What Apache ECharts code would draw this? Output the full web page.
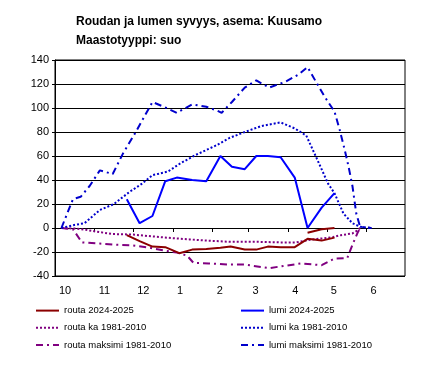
<!DOCTYPE html>
<html>
<head>
<meta charset="utf-8">
<script src="https://cdn.jsdelivr.net/npm/echarts@6/dist/echarts.min.js"></script>
<style>
html,body{margin:0;padding:0;background:#fff;}
#chart{width:430px;height:376px;}
</style>
</head>
<body>
<div id="chart"></div>
<script>
// x values are days counted from 1 October 2024 (season day)
var monthStartDays = [0, 31, 61, 92, 123, 151, 182, 212, 243];
var monthLabels = ['10', '11', '12', '1', '2', '3', '4', '5', '6'];
var seasonLength = 273;

var routaDays   = [56, 66, 76, 86, 97, 107, 118, 129, 137, 148, 157, 166, 176, 187, 197, 208, 218];
var routaValues = [-6, -11, -15.5, -16, -21, -18, -17.5, -16.5, -15.5, -18, -18, -15.5, -16, -16, -9, -10.5, -8];
var routaTopDays   = [197, 208, 218];
var routaTopValues = [-4, -1, 0];

var lumiDays   = [56, 66, 76, 86, 95, 107, 118, 129, 138, 148, 157, 166, 176, 187, 197, 208, 218];
var lumiValues = [24, 4, 10, 39, 42, 40, 39, 60, 51, 49, 60, 60, 59, 42, 0, 17, 29];

var routaKaDays   = [5, 16, 24, 32, 45, 61, 76, 92, 105, 118, 128, 136, 158, 176, 188, 193, 201, 210, 217, 223, 232, 236, 238];
var routaKaValues = [0, -0.5, -1.5, -3, -5, -5.5, -7, -8.5, -9.5, -10.5, -11, -11.5, -11.5, -12, -12, -11, -9.5, -8.5, -7.5, -6, -4.5, -2, 0];

var lumiKaDays   = [5, 15, 23, 35, 46, 58, 68, 76, 88, 98, 110, 126, 136, 148, 161, 176, 187, 196, 205, 213, 218, 225, 232, 238, 247];
var lumiKaValues = [0, 2.5, 4, 15, 20, 30, 37, 44, 47, 54, 61, 69, 75, 80, 85, 88, 83, 77, 56, 37, 29, 12, 4, 1, 0];

var routaMaxDays   = [5, 14, 21, 35, 48, 61, 74, 84, 95, 103, 108, 120, 136, 148, 167, 176, 192, 208, 218, 228, 232, 236, 238];
var routaMaxValues = [0, -1, -12, -13, -14, -14.5, -16.5, -18.5, -20.5, -23, -29, -29.5, -30.5, -30.5, -33.5, -32, -29.5, -31, -25.5, -25, -14, -4, 0];

var lumiMaxDays   = [5, 14, 20, 27, 35, 45, 53, 63, 76, 87, 95, 107, 118, 126, 130, 138, 148, 157, 167, 180, 190, 197, 204, 210, 218, 222, 226, 229, 232, 235, 238, 247];
var lumiMaxValues = [0, 24, 26, 35, 48, 45, 62, 80, 105, 100, 96, 103, 101, 98, 96, 105, 117, 123, 117, 122, 128, 134, 121, 110, 97, 82, 65, 51, 35, 12, 1, 0];

var yTicks = { min: -40, max: 140, interval: 20 };

function zip(a, b) { return a.map(function (d, i) { return [d, b[i]]; }); }

var chart = echarts.init(document.getElementById('chart'), null, { renderer: 'canvas' });

var FONT = '"Liberation Sans", Arial, sans-serif';
var RED = '#8b0000', PURPLE = '#800080', BLUE = '#0000ff', DBLUE = '#0000cc';
var DOT = [2, 2], DASHDOT = [7, 4, 2, 4];

function line(name, data, color, type, width) {
  return {
    name: name, type: 'line', data: data, xAxisIndex: 0, yAxisIndex: 0,
    showSymbol: false, symbol: 'none', animation: false,
    lineStyle: { color: color, width: width || 2, type: type },
    itemStyle: { color: color }
  };
}

function legendBlock(left, names) {
  return {
    orient: 'vertical', left: left, top: 305, padding: 0, itemGap: 6,
    itemWidth: 23, itemHeight: 14,
    itemStyle: { opacity: 0, borderWidth: 0 },
    data: names,
    textStyle: { fontFamily: FONT, fontSize: 9.5, color: '#000' }
  };
}

var option = {
  animation: false,
  backgroundColor: '#fff',
  title: {
    text: 'Roudan ja lumen syvyys, asema: Kuusamo\nMaastotyyppi: suo',
    left: 76, top: 12, padding: 0,
    textStyle: { fontFamily: FONT, fontSize: 12, fontWeight: 'bold', color: '#000', lineHeight: 19 }
  },
  legend: [
    legendBlock(35, ['routa 2024-2025', 'routa ka 1981-2010', 'routa maksimi 1981-2010']),
    legendBlock(240, ['lumi 2024-2025', 'lumi ka 1981-2010', 'lumi maksimi 1981-2010'])
  ],
  grid: {
    left: 55, right: 25, top: 60, bottom: 100,
    show: true, borderColor: '#000', borderWidth: 1, containLabel: false
  },
  xAxis: [
    {
      type: 'value', min: 0, max: seasonLength, position: 'bottom',
      axisLine: { show: false, onZero: false },
      axisTick: { show: false },
      splitLine: { show: false },
      axisLabel: {
        customValues: monthStartDays,
        formatter: function (v) { var i = monthStartDays.indexOf(v); return i >= 0 ? monthLabels[i] : ''; },
        align: 'left', padding: [0, 0, 0, 4], margin: 9,
        fontFamily: FONT, fontSize: 11, color: '#000'
      }
    },
    {
      type: 'value', min: 0, max: seasonLength, position: 'bottom',
      axisLine: { show: true, onZero: true, lineStyle: { color: '#000', width: 1 } },
      axisTick: { show: true, customValues: monthStartDays.slice(1), length: 4, inside: false, lineStyle: { color: '#000' } },
      axisLabel: { show: false },
      splitLine: { show: false }
    }
  ],
  yAxis: {
    type: 'value', min: yTicks.min, max: yTicks.max, interval: yTicks.interval,
    axisLine: { show: true, lineStyle: { color: '#000' } },
    axisTick: { show: true, length: 3, lineStyle: { color: '#000' } },
    splitLine: { show: true, lineStyle: { color: '#000', width: 1 } },
    axisLabel: { margin: 6, fontFamily: FONT, fontSize: 11, color: '#000' }
  },
  series: [
    line('routa ka 1981-2010', zip(routaKaDays, routaKaValues), PURPLE, DOT),
    line('routa maksimi 1981-2010', zip(routaMaxDays, routaMaxValues), PURPLE, DASHDOT),
    line('lumi ka 1981-2010', zip(lumiKaDays, lumiKaValues), DBLUE, DOT),
    line('lumi maksimi 1981-2010', zip(lumiMaxDays, lumiMaxValues), DBLUE, DASHDOT),
    line('routa 2024-2025', zip(routaDays, routaValues), RED, 'solid'),
    line('routa 2024-2025', zip(routaTopDays, routaTopValues), RED, 'solid'),
    line('lumi 2024-2025', zip(lumiDays, lumiValues), BLUE, 'solid')
  ]
};
chart.setOption(option);
</script>
</body>
</html>
